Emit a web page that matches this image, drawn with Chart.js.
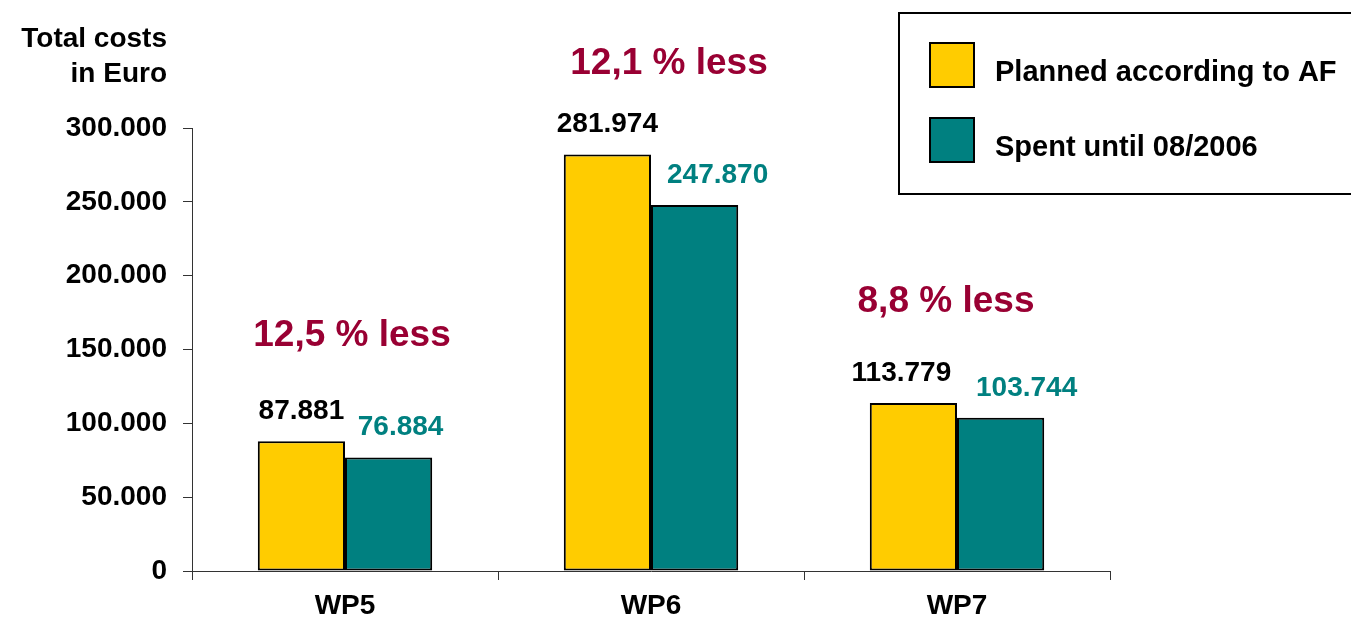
<!DOCTYPE html>
<html>
<head>
<meta charset="utf-8">
<script src="https://cdn.jsdelivr.net/npm/chart.js@4/dist/chart.umd.min.js"></script>
<style>
  html, body { margin: 0; padding: 0; background: #fff; }
  #wrap { width: 1351px; height: 629px; position: relative; }
</style>
</head>
<body>
<div id="wrap"><canvas id="c" width="1351" height="629"></canvas></div>
<script>
const categories = ['WP5', 'WP6', 'WP7'];
const planned = [87881, 281974, 113779];
const spent = [76884, 247870, 103744];
const seriesNames = ['Planned according to AF', 'Spent until 08/2006'];
const yMin = 0, yMax = 300000, yStep = 50000;
const axisTitle = ['Total costs', 'in Euro'];

const FONT = '"Liberation Sans", Arial, Helvetica, sans-serif';
const YELLOW = '#FFCC00', TEAL = '#008080', RED = '#990033';

function fmt(v) {
  return String(Math.round(v)).replace(/\B(?=(\d{3})+(?!\d))/g, '.');
}
function pctLess(p, s) {
  return ((1 - s / p) * 100).toFixed(1).replace('.', ',') + ' % less';
}

const labelPlugin = {
  id: 'labels',
  afterDatasetsDraw(chart, args, opts) {
    const ctx = chart.ctx;
    const xs = chart.scales.x, ys = chart.scales.y;
    ctx.save();
    ctx.textAlign = 'center';
    ctx.textBaseline = 'middle';
    ctx.font = 'bold 28px ' + FONT;
    chart.data.datasets.forEach((ds, di) => {
      const meta = chart.getDatasetMeta(di);
      meta.data.forEach((bar, i) => {
        ctx.fillStyle = opts.labelColors[di];
        const dx = opts.labelDx[di][i];
        ctx.fillText(fmt(ds.data[i]), bar.x + dx, bar.y - 30);
      });
    });
    // percentage annotations
    ctx.font = 'bold 37px ' + FONT;
    ctx.fillStyle = RED;
    categories.forEach((c, i) => {
      const x = xs.getPixelForValue(i) + opts.annDx[i];
      const y = ys.getPixelForValue(Math.max(planned[i], spent[i])) - opts.annDy[i];
      ctx.fillText(pctLess(planned[i], spent[i]), x, y);
    });
    // axis title
    ctx.font = 'bold 28px ' + FONT;
    ctx.fillStyle = '#000';
    ctx.textAlign = 'right';
    ctx.fillText(axisTitle[0], 167, 39);
    ctx.fillText(axisTitle[1], 167, 74);
    // legend box
    ctx.lineWidth = 2;
    ctx.strokeStyle = '#000';
    ctx.strokeRect(899, 13, 470, 181);
    const sw = [YELLOW, TEAL];
    const sy = [42, 117];
    ctx.textAlign = 'left';
    ctx.font = 'bold 29px ' + FONT;
    for (let k = 0; k < 2; k++) {
      ctx.fillStyle = sw[k];
      ctx.fillRect(929, sy[k], 46, 46);
      ctx.lineWidth = 2;
      ctx.strokeRect(930, sy[k] + 1, 44, 44);
      ctx.fillStyle = '#000';
      ctx.fillText(seriesNames[k], 995, sy[k] + 31);
    }
    ctx.restore();
  }
};

new Chart(document.getElementById('c'), {
  type: 'bar',
  data: {
    labels: categories,
    datasets: [
      { label: seriesNames[0], data: planned, backgroundColor: YELLOW, borderColor: '#000', borderWidth: 2, borderSkipped: false },
      { label: seriesNames[1], data: spent, backgroundColor: TEAL, borderColor: '#000', borderWidth: 2, borderSkipped: false }
    ]
  },
  plugins: [labelPlugin],
  options: {
    responsive: false,
    animation: false,
    devicePixelRatio: 1,
    layout: { padding: { top: 128, right: 241, left: 0, bottom: 0 } },
    datasets: { bar: { categoryPercentage: 0.57, barPercentage: 1.0 } },
    plugins: {
      legend: { display: false },
      tooltip: { enabled: false },
      labels: {
        labelColors: ['#000', TEAL],
        labelDx: [[0, 0, -12], [12, 23, 26]],
        annDx: [7, 18, -11],
        annDy: [105, 91, 101]
      }
    },
    scales: {
      x: {
        afterFit(s) { s.height = 58; },
        grid: { offset: true, drawOnChartArea: false, drawTicks: true, tickLength: 9, color: '#333', lineWidth: 1 },
        border: { display: true, color: '#333', width: 1 },
        ticks: { color: '#000', font: { family: FONT, size: 28, weight: 'bold' }, padding: 9 }
      },
      y: {
        min: yMin, max: yMax,
        afterFit(s) { s.width = 192; },
        grid: { drawOnChartArea: false, drawTicks: true, tickLength: 9, color: '#333', lineWidth: 1 },
        border: { display: true, color: '#333', width: 1 },
        ticks: {
          stepSize: yStep,
          color: '#000',
          padding: 16,
          font: { family: FONT, size: 28, weight: 'bold' },
          callback: (v) => fmt(v)
        }
      }
    }
  }
});
</script>
</body>
</html>
